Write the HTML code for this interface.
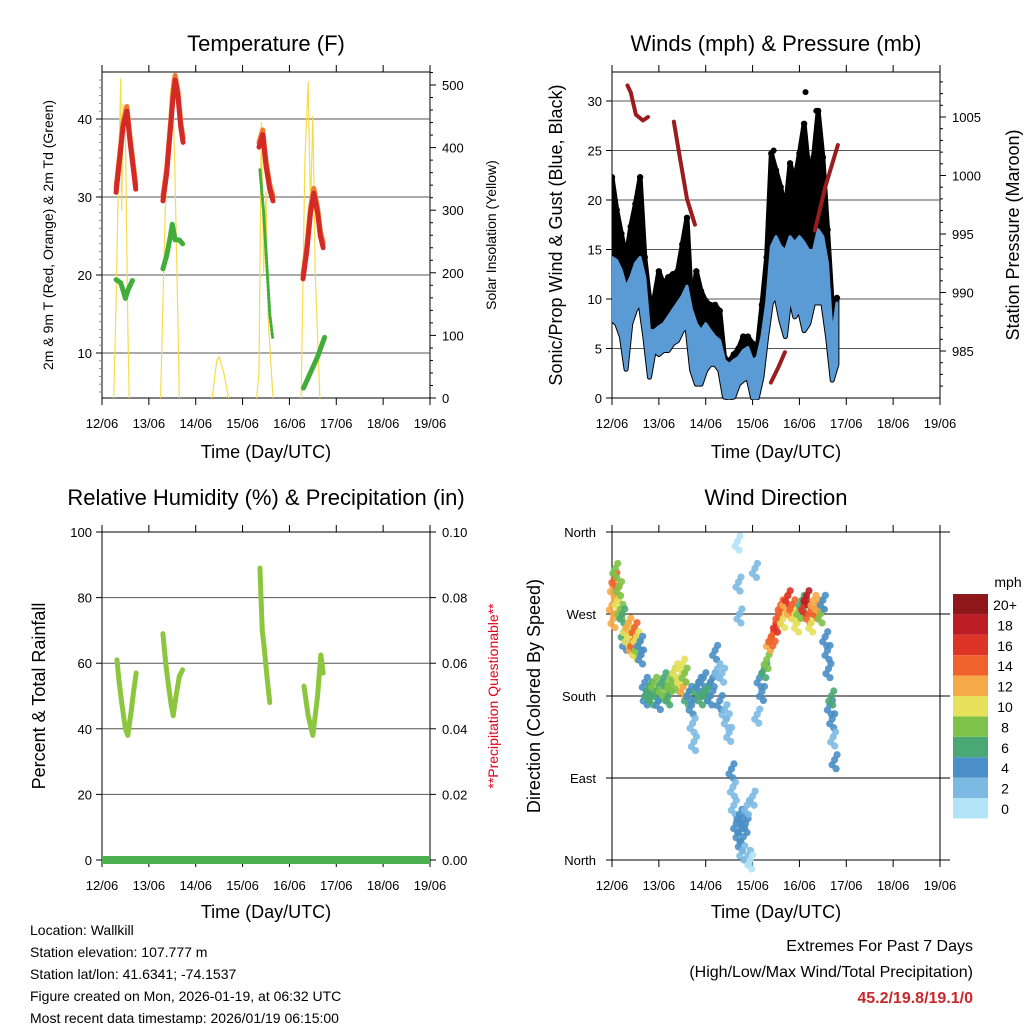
<!DOCTYPE html>
<html><head><meta charset="utf-8"><style>
body{margin:0;background:#fff}
svg{display:block;font-family:"Liberation Sans",sans-serif}
</style></head><body>
<svg id="s" width="1024" height="1024" viewBox="0 0 1024 1024" xmlns="http://www.w3.org/2000/svg"></svg>
<script>
// ---- data ----
const dayLabels=["12/06","13/06","14/06","15/06","16/06","17/06","18/06","19/06"];
const tempT=[[0.30,0.38,0.45,0.53,0.60,0.68,0.72],[1.30,1.38,1.45,1.52,1.56,1.62,1.68,1.73],[3.35,3.43,3.50,3.58,3.65],[4.29,4.37,4.45,4.52,4.60,4.66,4.72]];
const tempV=[[30.6,35,39,41,37,33,31],[29.5,33,38,43,45,43,39,37],[36.4,38,34,31,29.5],[19.5,23,28,30.5,28,25,23.5]];
const dewT=[[0.30,0.40,0.50,0.55,0.65],[1.30,1.38,1.46,1.50,1.56,1.65,1.72],[3.37,3.45,3.52,3.58,3.64],[4.30,4.45,4.60,4.75]];
const dewV=[[19.4,19,17,18,19.3],[20.8,22.5,25,26.5,24.5,24.5,24],[33.5,28,21,15,12],[5.5,7.5,9.5,12]];
const solarT=[[0.25,0.30,0.35,0.40,0.42,0.45,0.50,0.55,0.58],[1.25,1.35,1.45,1.50,1.55,1.60,1.65],[2.35,2.45,2.50,2.60,2.70],[3.30,3.35,3.40,3.45,3.50,3.55,3.65],[4.25,4.33,4.40,4.45,4.50,4.55,4.65]];
const solarV=[[0,150,350,510,300,470,420,120,0],[0,300,480,510,380,200,0],[0,60,66,40,0],[0,40,440,200,330,120,0],[0,380,505,300,450,200,0]];
const windT=[0,0.1,0.2,0.3,0.4,0.5,0.6,0.7,0.8,0.9,1.0,1.1,1.2,1.3,1.4,1.5,1.6,1.7,1.8,1.9,2.0,2.1,2.2,2.3,2.4,2.5,2.6,2.7,2.8,2.9,3.0,3.1,3.2,3.3,3.4,3.5,3.6,3.7,3.8,3.9,4.0,4.1,4.2,4.3,4.4,4.5,4.6,4.7,4.8];
const windHi=[14.2,13.9,12.9,11.2,12.2,13.6,14.2,12.2,6.8,6.8,7.2,7.5,8.2,8.9,9.6,10.3,11.3,8.9,7.5,6.8,7.5,6.8,6.2,5.8,3.8,3.4,3.8,4.1,4.8,5.1,3.8,4.1,6.2,9.6,15.3,16.3,15.3,14.9,16.3,15.7,16.3,15.7,14.9,14.9,17,16.3,13.6,6.2,9.6];
const windLo=[7.9,7.5,6.2,2.9,7.5,8.9,9.6,6.2,2.1,4.8,4.4,4.8,4.8,5.5,5.8,6.8,7.2,2.8,1.4,1.4,2.8,3.4,3.4,2.8,0.1,0,0.1,1.4,1.8,2.1,0,0,2.1,6.2,9.6,10.3,7.9,6.2,10.3,8.2,8.9,6.8,7.5,9.6,9.6,9.6,6.2,1.8,3.4];
const gustV=[22.3,19,16.6,14.2,17.3,19.6,22.3,14.2,10.1,10.1,12.8,11.5,12.2,12.5,12.8,15.5,18.2,9.4,12.8,10.8,9.8,9.4,9.4,8.8,4.1,3.7,4.4,5,6.2,6.2,5.5,5,9.4,14.2,24.7,23,21.3,19,23.7,22,24.7,27.7,23,24.3,29,24.3,17,9.4,10.1];
const gustPeakT=[4.13,4.36,4.38,4.10,3.45];
const gustPeakV=[30.9,29.0,27.5,26.0,25.0];
const presT=[[0.33,0.40,0.51,0.66,0.77],[1.32,1.45,1.60,1.77],[3.39,3.55,3.69],[4.33,4.55,4.82]];
const presV=[[1007.7,1007.1,1005.2,1004.7,1005.0],[1004.6,1001.5,998,995.8],[982.3,983.6,984.9],[995.3,999,1002.6]];
const rhT=[[0.32,0.36,0.42,0.50,0.55,0.62,0.68,0.73],[1.30,1.36,1.42,1.48,1.52,1.58,1.65,1.72],[3.37,3.42,3.46,3.52,3.58],[4.31,4.40,4.50,4.60,4.67,4.72]];
const rhV=[[61,55,48,40,38,45,52,57],[69,60,53,47,44,50,56,58],[89,70,65,56,48],[53,44,38,50,62.5,57]];
const dirTime=[0.0,0.02,0.05,0.07,0.1,0.12,0.15,0.03,0.18,0.22,0.25,0.28,0.3,0.33,0.35,0.4,0.42,0.45,0.48,0.5,0.52,0.55,0.6,0.62,0.7,0.72,0.75,0.8,0.85,0.9,0.95,1.0,1.05,1.1,1.15,1.2,1.25,1.3,1.35,1.4,1.45,1.5,1.52,1.55,1.6,1.65,1.7,1.72,1.75,1.8,1.85,1.9,1.95,2.0,2.05,2.1,2.15,2.2,2.25,2.3,2.35,2.4,2.45,2.5,2.55,2.58,2.6,2.65,2.7,2.72,2.75,2.78,2.8,2.85,2.88,2.9,2.68,2.7,2.72,2.95,3.0,3.05,3.1,3.15,3.2,3.25,3.3,3.35,3.4,3.45,3.5,3.55,3.6,3.65,3.7,3.75,3.8,3.85,3.9,3.95,4.0,4.05,4.1,4.15,4.2,4.25,4.3,4.35,4.4,4.45,4.5,4.55,4.6,4.62,4.65,4.68,4.7,4.72,4.75];
const dirDeg=[280,300,310,320,295,285,300,265,275,270,250,240,255,245,260,250,235,240,255,230,245,235,240,225,195,180,185,190,180,195,185,175,190,200,185,180,195,205,210,195,200,215,190,205,180,185,170,150,130,190,195,180,200,185,190,180,200,230,210,175,205,165,155,140,100,80,60,40,30,50,20,10,45,40,60,5,350,305,270,0,70,320,160,200,185,210,220,240,245,250,260,270,280,265,285,290,275,280,270,260,275,285,280,290,270,260,285,275,280,270,285,245,230,210,170,180,155,135,110];
const dirSpeed=[12,12,13,8,12,10,8,11,8,6,5,4,10,9,12,10,11,14,13,10,9,8,4,4,4,4,6,6,5,7,6,4,7,6,8,6,7,8,10,8,9,10,11,8,6,4,3,2,2,6,4,6,4,6,6,4,4,3,2,4,2,2,2,2,4,2,2,4,4,4,3,2,4,3,2,2,0,1,1,0,1,1,1,4,4,6,8,12,14,14,16,13,14,10,12,16,12,14,10,9,8,6,16,18,14,10,12,14,12,8,4,4,3,4,4,6,4,2,4];
const speedLabels=["0","2","4","6","8","10","12","14","16","18","20+"];
const speedColors=["#b3e3f7","#7dbae3","#4a8fc7","#4aa874","#7ec24a","#e6e05a","#f5a947","#f0622c","#dc3427","#bc1c25","#8e1719"];

// ---- helpers ----
const S=document.getElementById('s');const NS="http://www.w3.org/2000/svg";
function el(tag,attrs,parent){const e=document.createElementNS(NS,tag);for(const k in attrs)e.setAttribute(k,attrs[k]);(parent||S).appendChild(e);return e;}
function txt(x,y,str,size,anchor,extra){const e=el('text',Object.assign({x:x,y:y,'font-size':size,'text-anchor':anchor||'middle',fill:'#000'},extra||{}));e.textContent=str;return e;}
const DAY=46.857;
function xs(x0){return t=>x0+t*DAY;}
function lin(v0,y0,v1,y1){return v=>y0+(v-v0)*(y1-y0)/(v1-v0);}
function frame(x0,y0,x1,y1,name){
  const g=el('g',{});
  
  
  el('rect',{x:x0,y:y0,width:x1-x0,height:y1-y0,fill:'none',stroke:'#000','stroke-width':1},g);
  for(let i=0;i<8;i++){const x=x0+i*DAY;
    el('line',{x1:x,y1:y1,x2:x,y2:y1+7,stroke:'#000'},g);
    el('line',{x1:x,y1:y0,x2:x,y2:y0-7,stroke:'#000'},g);
    const t=txt(x,y1+30,dayLabels[i],13,'middle',{});g.appendChild(t);
    
    
  }
  return g;
}
function grid(x0,x1,y,g){el('line',{x1:x0,y1:y,x2:x1,y2:y,stroke:'#555','stroke-width':1},g);}
function leftTick(x0,y,label,g){el('line',{x1:x0-6,y1:y,x2:x0,y2:y,stroke:'#000'},g);const t=txt(x0-10,y+5,label,13,'end');g.appendChild(t);}
function rightTick(x1,y,label,g,len){el('line',{x1:x1,y1:y,x2:x1+(len||6),y2:y,stroke:'#000'},g);if(label!==null){const t=txt(x1+12,y+5,label,13,'start');g.appendChild(t);}}
function poly(ts,vs,X,Y,attrs,parent,name){const p=el('polyline',Object.assign({points:ts.map((t,i)=>X(t)+','+Y(vs[i])).join(' '),fill:'none','stroke-linejoin':'round','stroke-linecap':'round'},attrs),parent);
  
  
  return p;}
function band(ts,hi,lo,X,Y,attrs,parent,name){
  const pts=ts.map((t,i)=>X(t)+','+Y(hi[i])).concat(ts.slice().reverse().map((t,j)=>X(t)+','+Y(lo[ts.length-1-j])));
  const p=el('polygon',Object.assign({points:pts.join(' ')},attrs),parent);
  
  
  return p;}
function ylab(x,y,str,size,color){const t=txt(x,y,str,size,'middle',{transform:`rotate(-90 ${x} ${y})`,fill:color||'#000'});return t;}

// ---- Temperature panel ----
(function(){
 const x0=102,x1=430,y0=72,y1=398;const X=xs(x0);const Y=lin(10,353,40,119);const YS=lin(0,398,500,85);
 const g=frame(x0,y0,x1,y1,'temperature-panel');
 [10,20,30,40].forEach(v=>{grid(x0,x1,Y(v),g);leftTick(x0,Y(v),String(v),g);});
 for(let v=5;v<=45;v++){if(v%10)el('line',{x1:x0-3,y1:Y(v),x2:x0,y2:Y(v),stroke:'#888'},g);}
 for(let v=0;v<=520;v+=20){rightTick(x1,YS(v),v%100===0?String(v):null,g,v%100===0?6:3);}
 const clip=el('clipPath',{id:'c1'});el('rect',{x:x0,y:y0,width:x1-x0,height:y1-y0},clip);
 const d=el('g',{'clip-path':'url(#c1)'},g);
 solarT.forEach((ts,i)=>poly(ts,solarV[i],X,YS,{stroke:'#f7dc4a','stroke-width':1.2},d,'solar-insolation-line'));
 tempT.forEach((ts,i)=>poly(ts,tempV[i].map(v=>v+0.6),X,Y,{stroke:'#f07a2c','stroke-width':5},d,'temp-9m-line'));
 tempT.forEach((ts,i)=>poly(ts,tempV[i],X,Y,{stroke:'#d42a27','stroke-width':5},d,'temp-2m-line'));
 dewT.forEach((ts,i)=>poly(ts,dewV[i],X,Y,{stroke:'#43ad3c','stroke-width':i==2?3:5,'stroke-dasharray':i==2?'2 2':'none'},d,'dewpoint-line'));
 const t=txt(266,51,'Temperature (F)',22);
 const xl=txt(266,458,'Time (Day/UTC)',18);
 const yl=ylab(53,235,'2m & 9m T (Red, Orange) & 2m Td (Green)',14);
 const yr=ylab(496,235,'Solar Insolation (Yellow)',14);
})();

// ---- Winds panel ----
(function(){
 const x0=612,x1=940,y0=72,y1=398;const X=xs(x0);const Y=lin(0,398,30,101);const YP=lin(985,351,1005,117);
 const g=frame(x0,y0,x1,y1,'winds-panel');
 [0,5,10,15,20,25,30].forEach(v=>{if(v>0)grid(x0,x1,Y(v),g);leftTick(x0,Y(v),String(v),g);});
 for(let v=982;v<=1008;v++){rightTick(x1,YP(v),v%5===0?String(v):null,g,v%5===0?6:3);}
 const clip=el('clipPath',{id:'c2'});el('rect',{x:x0,y:y0-2,width:x1-x0,height:y1-y0+4},clip);
 const d=el('g',{'clip-path':'url(#c2)'},g);
 band(windT,gustV,windLo,X,Y,{fill:'#000',stroke:'#000','stroke-width':5,'stroke-linejoin':'round'},d,'gust-series');
 windT.forEach((t,i)=>{const c=el('circle',{cx:X(t),cy:Y(gustV[i]),r:3.2,fill:'#000'},d);
  
  });
 gustPeakT.forEach((t,i)=>{const c=el('circle',{cx:X(t),cy:Y(gustPeakV[i]),r:3,fill:'#000'},d);
  
  });
 band(windT,windHi,windLo,X,Y,{fill:'#5b9bd5',stroke:'#5b9bd5','stroke-width':3,'stroke-linejoin':'round'},d,'wind-series');
 presT.forEach((ts,i)=>poly(ts,presV[i],X,YP,{stroke:'#9a1c1f','stroke-width':4},d,'pressure-line'));
 const t=txt(776,51,'Winds (mph) & Pressure (mb)',22);
 const xl=txt(776,458,'Time (Day/UTC)',18);
 const yl=ylab(562,235,'Sonic/Prop Wind & Gust (Blue, Black)',18);
 const yr=ylab(1019,235,'Station Pressure (Maroon)',18);
})();

// ---- RH panel ----
(function(){
 const x0=102,x1=430,y0=532,y1=860;const X=xs(x0);const Y=lin(0,860,100,532);
 const g=frame(x0,y0,x1,y1,'humidity-panel');
 [0,20,40,60,80,100].forEach(v=>{if(v>0&&v<100)grid(x0,x1,Y(v),g);leftTick(x0,Y(v),String(v),g);
   rightTick(x1,Y(v),(v/1000).toFixed(2),g);});
 const d=el('g',{},g);
 rhT.forEach((ts,i)=>poly(ts,rhV[i],X,Y,{stroke:'#8cc63f','stroke-width':5},d,'humidity-line'));
 const pr=el('line',{x1:x0,y1:860,x2:x1,y2:860,stroke:'#4caf50','stroke-width':8},d);
 
 const t=txt(266,505,'Relative Humidity (%) & Precipitation (in)',22);
 const xl=txt(266,918,'Time (Day/UTC)',18);
 const yl=ylab(45,696,'Percent & Total Rainfall',18);
 const yr=ylab(498,696,'**Precipitation Questionable**',14,'#e3001b');
})();

// ---- Wind direction panel ----
(function(){
 const x0=612,x1=940,y0=532,y1=860;const X=xs(x0);const Y=lin(0,860,360,532);
 const g=frame(x0,y0,x1,y1,'wind-direction-panel');
 const names=['North','East','South','West','North'];
 [0,90,180,270,360].forEach((v,i)=>{el('line',{x1:x0-6,y1:Y(v),x2:x1+10,y2:Y(v),stroke:'#000'},g);g.appendChild(txt(x0-16,Y(v)+5,names[i],13,'end'));});
 const d=el('g',{},g);
 function col(s){return speedColors[Math.min(10,Math.floor((s+1)/2))];}
 const offs=[[0,0],[-2.5,5],[2.5,-5],[1.5,9]];
 dirTime.forEach((t,i)=>{offs.forEach(o=>{const c=el('circle',{cx:X(t)+o[0],cy:Y(dirDeg[i])+o[1],r:3.6,fill:col(dirSpeed[i]),'fill-opacity':0.9},d);
  
  });});
 const lg=el('g',{});
 
 
 lg.appendChild(txt(1008,587,'mph',14));
 speedColors.forEach((c,i)=>{const yy=798-i*20.4;el('rect',{x:953,y:yy,width:35,height:20.4,fill:c},lg);lg.appendChild(txt(1005,yy+16,speedLabels[i],14));});
 const t=txt(776,505,'Wind Direction',22);
 const xl=txt(776,918,'Time (Day/UTC)',18);
 const yl=ylab(540,696,'Direction (Colored By Speed)',18);
})();

// ---- footer ----
const info=["Location: Wallkill","Station elevation: 107.777 m","Station lat/lon: 41.6341; -74.1537","Figure created on Mon, 2026-01-19, at 06:32 UTC","Most recent data timestamp: 2026/01/19 06:15:00"];
info.forEach((s,i)=>{const t=txt(30,935+i*22,s,14,'start');});
const e1=txt(973,951,'Extremes For Past 7 Days',16,'end');
const e2=txt(973,977,'(High/Low/Max Wind/Total Precipitation)',16,'end');
const e3=txt(973,1003,'45.2/19.8/19.1/0',16,'end',{fill:'#c8282d','font-weight':'bold'});
</script>
</body></html>
